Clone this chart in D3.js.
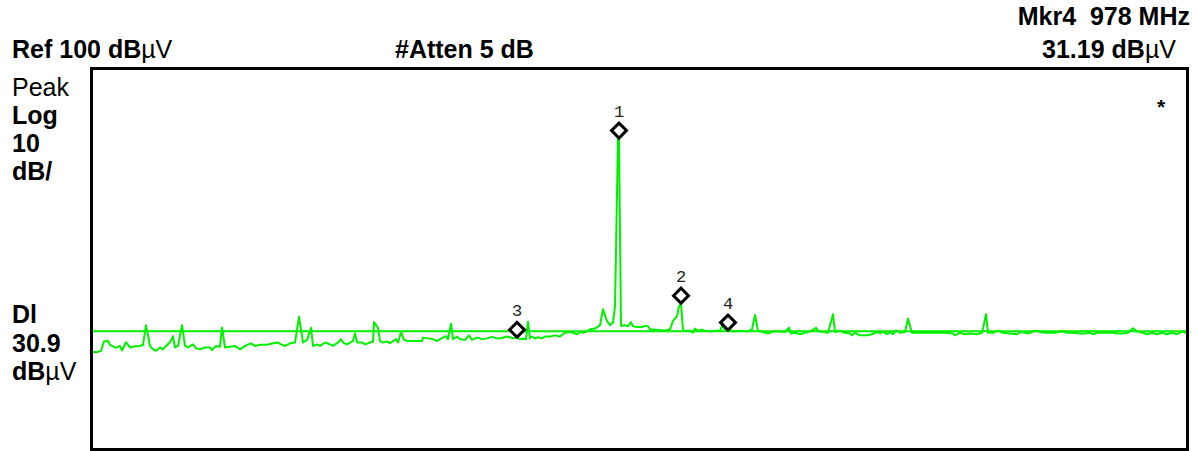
<!DOCTYPE html>
<html><head><meta charset="utf-8">
<script src="https://cdn.jsdelivr.net/npm/d3@7"></script>
<style>body{margin:0;background:#fff;} svg{display:block;}</style>
</head><body><svg id="c" width="1199" height="451"></svg>
<script>
// ---- data ----
const refLevel = 100;          // dBµV at top of screen
const dbPerDiv = 10;
const divisions = 10;
const displayLine = 30.9;      // dBµV
const startMHz = 343, stopMHz = 1436;

const traceFreqMHz = [343,346,351,354,358,360,365,367,370,372,376,380,385,390,393,396,400,403,406,410,413,416,420,423,425,428,432,435,438,443,446,450,455,460,462,466,470,472,475,480,485,490,495,501,505,510,515,518,523,528,531,535,540,545,549,553,557,561,563,567,570,575,580,583,588,591,593,597,600,603,605,607,612,615,620,623,624,628,630,633,637,640,643,646,648,651,654,658,663,668,672,673,678,683,687,690,693,696,698,701,703,707,710,715,719,722,727,732,737,742,747,752,757,760,763,767,770,773,776,778,780,782,785,788,792,795,800,805,810,815,820,823,827,830,833,837,840,845,850,853,857,860,863,865,868,869,871,875,878,881,883,887,892,895,898,900,905,910,915,920,923,927,929,931,933,940,943,945,948,952,955,960,965,970,972,975,978,982,985,990,997,1002,1005,1008,1013,1018,1023,1030,1035,1039,1041,1045,1050,1055,1060,1066,1069,1073,1078,1083,1085,1090,1095,1100,1102,1105,1110,1117,1122,1127,1130,1133,1137,1140,1143,1146,1150,1155,1158,1162,1167,1175,1185,1195,1203,1205,1210,1215,1220,1227,1232,1236,1238,1243,1248,1253,1260,1267,1270,1275,1278,1283,1287,1290,1295,1300,1305,1312,1317,1323,1330,1335,1340,1343,1347,1355,1363,1368,1373,1378,1383,1387,1393,1397,1402,1407,1412,1417,1422,1427,1432,1436];
const traceLevel = [25.4,25.3,25.7,28.2,28.3,27.3,26.6,26.6,27.0,25.8,28.0,26.6,26.9,27.0,27.3,32.5,27.0,26.1,25.7,26.6,26.1,27.0,28.0,29.6,26.6,27.0,32.5,27.0,26.6,27.4,26.4,26.1,26.6,26.6,25.9,27.0,26.8,31.9,26.6,26.8,27.0,26.1,27.0,27.7,27.0,27.3,27.3,27.4,27.7,27.9,27.4,27.0,27.7,27.9,34.7,27.9,28.6,31.8,27.0,27.4,27.0,27.9,27.4,27.0,27.9,28.8,27.9,27.4,27.9,28.3,30.3,27.9,27.9,27.4,27.9,28.1,33.3,31.8,28.3,27.9,28.2,27.7,28.3,28.8,27.9,30.7,28.6,28.3,28.3,28.3,28.3,29.2,29.0,28.8,28.3,28.8,29.2,29.6,28.8,32.9,28.8,29.5,28.8,28.6,29.8,28.6,29.2,28.8,29.0,29.4,29.0,29.1,29.5,29.3,29.0,29.3,28.8,28.9,28.8,33.4,29.0,29.5,29.0,29.3,29.0,29.5,29.5,29.8,29.5,30.5,30.7,30.5,30.1,30.7,30.5,30.9,31.4,31.6,32.5,36.7,33.6,32.5,33.2,37.5,82.0,82.0,32.3,32.5,32.2,33.3,32.2,32.0,32.0,32.3,32.2,31.4,31.3,31.2,31.0,31.4,33.6,34.9,37.5,38.3,31.0,31.0,30.5,31.6,31.0,31.3,31.0,30.8,31.0,31.0,32.3,31.4,31.19,31.0,30.8,31.0,30.8,31.4,35.2,31.0,30.7,30.3,30.8,30.8,30.7,31.8,30.3,30.5,30.1,30.5,30.8,31.8,30.8,30.7,30.5,35.4,30.7,31.0,30.5,30.3,29.8,30.5,29.8,29.8,30.1,30.7,30.3,30.7,30.1,30.5,30.1,31.1,30.5,30.7,34.2,30.5,30.5,30.5,30.5,30.5,30.3,29.8,30.5,30.1,30.3,30.1,30.5,35.4,30.5,30.5,31.0,30.5,30.3,30.1,30.7,30.5,30.3,30.8,31.0,30.7,30.5,30.5,30.5,30.9,30.5,30.5,30.3,30.3,30.5,30.1,30.5,30.5,30.5,30.3,30.3,30.5,31.7,30.8,30.5,30.1,30.5,30.1,30.5,30.1,30.5,30.1,30.8,30.5];

const markerIds = ["1", "2", "3", "4"];
const markerFreqMHz = [869, 931, 767, 978];
const markerLevel = [82.0, 38.3, 29.3, 31.19];

const activeMarker = "Mkr4";
const activeMarkerFreq = "978 MHz";
const activeMarkerAmp = "31.19";
const refText = "Ref 100";
const attenText = "#Atten 5 dB";
const leftTopLabels = [["Peak", false], ["Log", true], ["10", true], ["dB/", true]];
const dlValue = "30.9";

// ---- drawing ----
const svg = d3.select("#c");
const plot = {left: 93, right: 1186, top: 70, bottom: 448};
const x = d3.scaleLinear().domain([startMHz, stopMHz]).range([plot.left, plot.right]);
const y = d3.scaleLinear().domain([refLevel - dbPerDiv * divisions, refLevel]).range([plot.bottom, plot.top]);

const FONT = "'Liberation Sans', Arial, Helvetica, sans-serif";
const FS = 25;

svg.append("defs").append("clipPath").attr("id", "clip")
  .append("rect").attr("x", plot.left).attr("y", plot.top)
  .attr("width", plot.right - plot.left).attr("height", plot.bottom - plot.top);

// display line
svg.append("line")
  .attr("x1", x(startMHz)).attr("x2", x(stopMHz))
  .attr("y1", y(displayLine)).attr("y2", y(displayLine))
  .attr("stroke", "#00f000").attr("stroke-width", 2);

// trace
const pts = traceFreqMHz.map((f, i) => [f, traceLevel[i]]);
svg.append("path")
  .datum(pts)
  .attr("clip-path", "url(#clip)")
  .attr("fill", "none")
  .attr("stroke", "#00f000")
  .attr("stroke-width", 2)
  .attr("stroke-linejoin", "round")
  .attr("d", d3.line().x(d => x(d[0])).y(d => y(d[1])));

// frame
svg.append("rect")
  .attr("x", plot.left - 1.5).attr("y", plot.top - 1.5)
  .attr("width", plot.right - plot.left + 3).attr("height", plot.bottom - plot.top + 3)
  .attr("fill", "none").attr("stroke", "#000").attr("stroke-width", 3);

// markers
const diamond = d3.symbol().type(d3.symbolSquare).size(112);
const mk = svg.append("g").selectAll("g").data(markerIds).join("g")
  .attr("transform", (d, i) => `translate(${x(markerFreqMHz[i])},${y(markerLevel[i]) - 7.5})`);
mk.append("path").attr("d", diamond()).attr("transform", "rotate(45)")
  .attr("fill", "#fff").attr("stroke", "#000").attr("stroke-width", 3);
mk.append("text").text(d => d)
  .attr("x", 0).attr("y", -14).attr("text-anchor", "middle")
  .attr("font-family", "'Liberation Mono', 'Courier New', monospace")
  .attr("font-size", 17).attr("fill", "#222");

// header texts
function dbuv(sel) {
  sel.append("tspan").attr("font-weight", "bold").text("dB");
  sel.append("tspan").attr("font-weight", "normal").text("\u00B5V");
}
const t1 = svg.append("text").attr("x", 12).attr("y", 58)
  .attr("font-family", FONT).attr("font-size", FS);
t1.append("tspan").attr("font-weight", "bold").text(refText + " ");
dbuv(t1);

svg.append("text").attr("x", 395).attr("y", 58)
  .attr("font-family", FONT).attr("font-size", FS).attr("font-weight", "bold")
  .text(attenText);

svg.append("text").attr("x", 1190).attr("y", 25).attr("text-anchor", "end")
  .attr("font-family", FONT).attr("font-size", FS).attr("font-weight", "bold")
  .style("white-space", "pre")
  .text(activeMarker + "  " + activeMarkerFreq);

const t3 = svg.append("text").attr("x", 1176).attr("y", 58).attr("text-anchor", "end")
  .attr("font-family", FONT).attr("font-size", FS);
t3.append("tspan").attr("font-weight", "bold").text(activeMarkerAmp + " ");
dbuv(t3);

// left labels
leftTopLabels.forEach((l, i) => {
  svg.append("text").attr("x", 12).attr("y", 96 + i * 28)
    .attr("font-family", FONT).attr("font-size", FS)
    .attr("font-weight", l[1] ? "bold" : "normal").text(l[0]);
});
svg.append("text").attr("x", 12).attr("y", 323)
  .attr("font-family", FONT).attr("font-size", FS).attr("font-weight", "bold").text("Dl");
svg.append("text").attr("x", 12).attr("y", 352)
  .attr("font-family", FONT).attr("font-size", FS).attr("font-weight", "bold").text(dlValue);
const t4 = svg.append("text").attr("x", 12).attr("y", 380)
  .attr("font-family", FONT).attr("font-size", FS);
dbuv(t4);

svg.append("text").attr("x", 1161).attr("y", 114).attr("text-anchor", "middle")
  .attr("font-family", FONT).attr("font-size", 21).attr("font-weight", "bold").text("*");
</script>
</body></html>
